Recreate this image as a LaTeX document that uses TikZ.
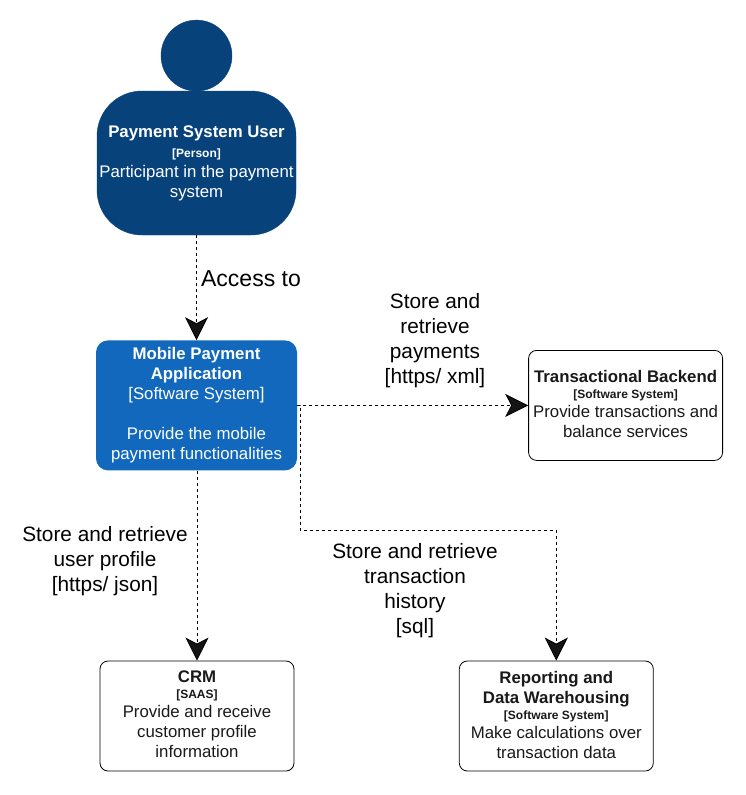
\documentclass[tikz,border=0pt]{standalone}
\usepackage{fontspec}
\setmainfont{Liberation Sans}
\usetikzlibrary{positioning, arrows.meta}
\definecolor{personblue}{HTML}{08427B}
\definecolor{systemblue}{HTML}{1168BD}
\newcommand{\tagline}[1]{{\fontsize{12}{20}\selectfont\bfseries #1}}
\newcommand{\tagrow}[1]{\\[-4pt] \tagline{#1}\\[-1pt]}
\newcommand{\rowfill}{\\[-17pt]\mbox{}}
\tikzset{
  x=1pt, y=1pt, node distance=1pt,
  boxtext/.style={align=center, inner sep=0pt, font=\fontsize{16.8}{20}\selectfont},
  extbox/.style={boxtext, draw=black, line width=.8pt, rounded corners=8pt, text=black!90,
    minimum width=194pt, minimum height=110pt},
  syslabel/.style={align=center, inner sep=0pt, text=black, font=\fontsize{20.8}{25}\selectfont},
  rel/.style={draw=black, line width=.8pt, dash pattern=on 3pt off 3pt,
    -{Stealth[length=23pt, width=23pt, inset=6pt, fill=black!92]}}
}

\begin{document}
\begin{tikzpicture}
      \useasboundingbox (0,0) rectangle (745,-795);

      % person
      \node[boxtext, fill=personblue, draw=personblue, text=white, rounded corners=45pt,
        minimum width=199pt, minimum height=144pt] (user) at (196.5,-163)
        {\textbf{Payment System User}\\ \tagline{[Person]}\\ Participant in the payment\\ system};
      \node[circle, fill=personblue, draw=personblue, inner sep=0pt, minimum size=71pt,
        above=-.5pt of user] (head) {};

      % systems
      \node[boxtext, fill=systemblue, text=white, rounded corners=12pt,
        minimum width=201pt, minimum height=130pt, below=105pt of user] (mobile)
        {\textbf{Mobile Payment}\\ \textbf{Application}\\ {[Software System]}\\ \\ Provide the mobile\\ payment functionalities};
      \node[extbox, right=231pt of mobile] (backend)
        {\textbf{Transactional Backend}\tagrow{[Software System]} Provide transactions and\\ balance services\rowfill};
      \node[extbox, below=190pt of mobile, xshift=.5pt] (crm)
        {\textbf{CRM}\tagrow{[SAAS]} Provide and receive\\ customer profile\\ information\rowfill};
      \node[extbox, right=164.5pt of crm] (reporting)
        {\textbf{Reporting and}\\ \textbf{Data Warehousing}\tagrow{[Software System]} Make calculations over\\ transaction data\rowfill};

      % relations
      \draw[rel] (user) -- (mobile);
      \draw[rel] (mobile) -- (backend);
      \draw[rel] (mobile.south -| crm.north) -- (crm);
      \draw[rel] (mobile.east) -- ++(3,0) -- ++(0,-125) -| (reporting.north);

      % labels
      \node[syslabel, font=\fontsize{23}{25}\selectfont] (accesslabel) at (251,-279) {Access to};
      \node[syslabel] (paymentslabel) at (435,-341) {Store and\\ retrieve\\ payments\\ {[https/ xml]}};
      \node[syslabel] (profilelabel) at (105,-561) {Store and retrieve\\ user profile\\ {[https/ json]}};
      \node[syslabel] (historylabel) at (415,-591) {Store and retrieve\\ transaction\\ history\\ {[sql]}};
\end{tikzpicture}
\end{document}
